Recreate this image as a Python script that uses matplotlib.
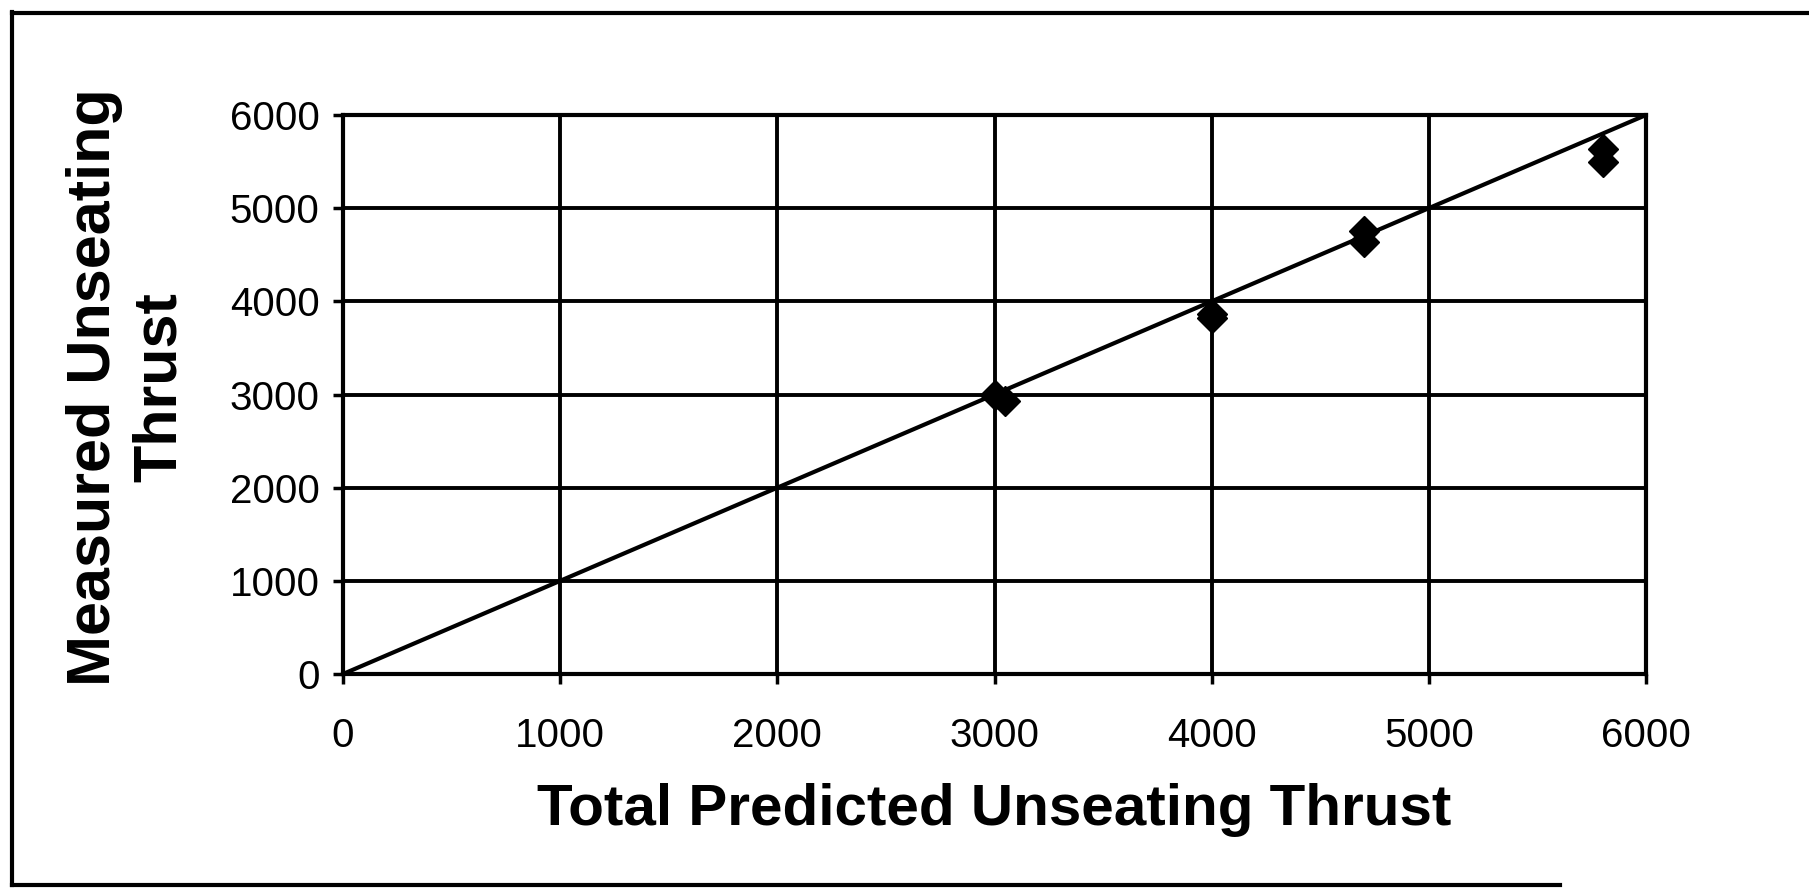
import matplotlib
matplotlib.use('Agg')
import matplotlib.pyplot as plt
from matplotlib.lines import Line2D

# Data
predicted = [3000, 3050, 4000, 4000, 4700, 4700, 5800, 5800]
measured = [3000, 2930, 3860, 3820, 4750, 4640, 5640, 5500]
line_x = [0, 6000]
line_y = [0, 6000]
ticks = [0, 1000, 2000, 3000, 4000, 5000, 6000]

plt.rcParams['font.family'] = ['Liberation Sans', 'DejaVu Sans']

W, H = 1809, 888
fig = plt.figure(figsize=(W / 100, H / 100), dpi=100)
ax = fig.add_axes([343 / W, 1 - 674 / H, (1646 - 343) / W, (674 - 115) / H])

# grid + axes
ax.set_xlim(0, 6000)
ax.set_ylim(0, 6000)
ax.set_xticks(ticks)
ax.set_yticks(ticks)
ax.grid(True, color='black', linewidth=2.8)
ax.set_axisbelow(True)
for s in ax.spines.values():
    s.set_linewidth(3)
ax.tick_params(axis='both', direction='out', length=7, width=2.5,
               labelsize=29, colors='black')
ax.tick_params(axis='x', pad=24)
ax.tick_params(axis='y', pad=10)

# y = x reference line and measured points
ax.plot(line_x, line_y, color='black', linewidth=3, zorder=3)
ax.plot(predicted, measured, linestyle='none', marker='D', markersize=15,
        color='black', zorder=4)

ax.set_xlabel('Total Predicted Unseating Thrust', fontsize=42,
              fontweight='bold')
ax.xaxis.set_label_coords(0.5, -0.195)

fig.text(127 / W, 1 - 387 / H, 'Measured Unseating\nThrust', fontsize=44,
         fontweight='bold', rotation=90, ha='center', va='center',
         multialignment='center', linespacing=1.2)

# outer frame of the scanned figure
lw = 3
fig.add_artist(Line2D([12 / W, 12 / W], [1 - 12 / H, 1 - 885 / H],
                      transform=fig.transFigure, color='black', linewidth=lw))
fig.add_artist(Line2D([12 / W, 1.0], [1 - 13 / H, 1 - 13 / H],
                      transform=fig.transFigure, color='black', linewidth=lw))
fig.add_artist(Line2D([12 / W, 1560 / W], [1 - 885 / H, 1 - 885 / H],
                      transform=fig.transFigure, color='black', linewidth=lw))

fig.savefig('out.png', dpi=100)
